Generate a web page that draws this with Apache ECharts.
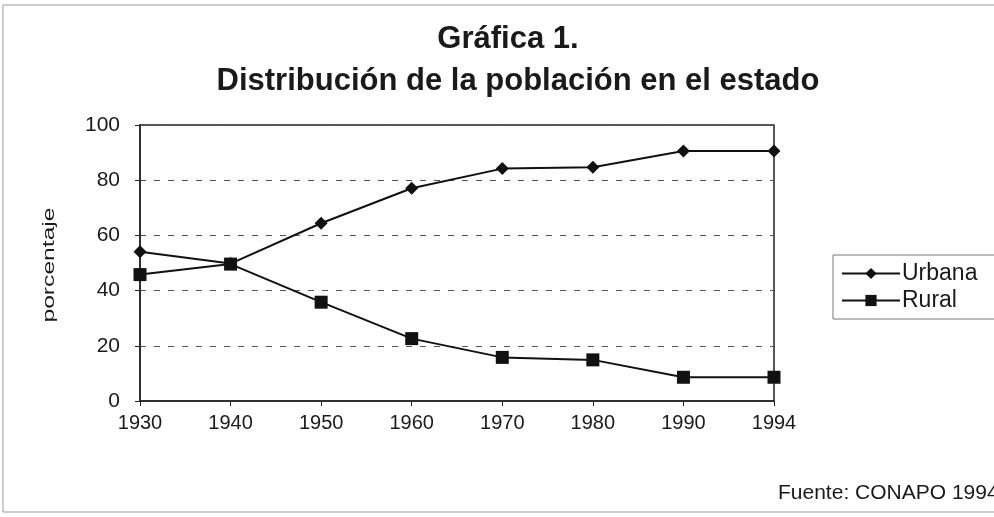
<!DOCTYPE html>
<html>
<head>
<meta charset="utf-8">
<script src="https://cdn.jsdelivr.net/npm/echarts@6/dist/echarts.min.js"></script>
<style>
  html, body { margin: 0; padding: 0; background: #fff; }
  #chart { width: 994px; height: 517px; }
</style>
</head>
<body>
<div id="chart"></div>
<script>
// datos
const years = ['1930', '1940', '1950', '1960', '1970', '1980', '1990', '1994']
const urbana = [54.1, 49.8, 64.4, 77.1, 84.2, 84.7, 90.6, 90.6]
const rural = [45.8, 49.6, 35.8, 22.6, 15.8, 14.9, 8.6, 8.6]

const chart = echarts.init(document.getElementById('chart'))
const font = 'Arial, "Liberation Sans", sans-serif'
const ink = '#1a1a1a'

chart.setOption({
	animation: false,
	backgroundColor: '#fff',
	textStyle: { fontFamily: font, color: ink },
	title: [
		{
			text: 'Gráfica 1.',
			left: 503,
			top: 19,
			textAlign: 'center',
			textStyle: { fontSize: 31, fontWeight: 'bold', color: ink },
		},
		{
			text: 'Distribución de la población en el estado',
			left: 513,
			top: 61,
			textAlign: 'center',
			textStyle: { fontSize: 31, fontWeight: 'bold', color: ink },
		},
	],
	graphic: [
		{
			// marco exterior
			type: 'rect',
			shape: { x: 3, y: 5, width: 1000, height: 507 },
			style: { fill: 'none', stroke: '#9a9a9a', lineWidth: 1 },
			silent: true,
			z: -1,
		},
		{
			// título del eje y (un poco estirado como en el original)
			type: 'text',
			x: 49,
			y: 265,
			rotation: Math.PI / 2,
			scaleX: 1.45,
			style: {
				text: 'porcentaje',
				fontSize: 17,
				fontFamily: font,
				fill: ink,
				align: 'center',
				verticalAlign: 'middle',
			},
		},
		{
			type: 'text',
			left: 778,
			top: 483,
			style: { text: 'Fuente: CONAPO 1994', fontSize: 21, fontFamily: font, fill: ink },
		},
	],
	legend: {
		left: 833,
		top: 255,
		orient: 'vertical',
		itemWidth: 58,
		itemHeight: 14,
		itemGap: 4,
		padding: [7, 60, 7, 8],
		borderColor: '#777',
		borderWidth: 1,
		textStyle: { fontSize: 23, color: ink, padding: [0, 0, 0, -3] },
		data: ['Urbana', 'Rural'],
	},
	grid: {
		left: 140,
		top: 125,
		right: 220,
		bottom: 116,
		show: true,
		borderColor: '#222',
		borderWidth: 1.5,
	},
	xAxis: {
		type: 'category',
		data: years,
		boundaryGap: false,
		axisLine: { lineStyle: { color: '#222', width: 1.5 } },
		axisTick: { show: true, length: 5, lineStyle: { color: '#222' } },
		axisLabel: { fontSize: 20, color: ink, margin: 12 },
	},
	yAxis: {
		type: 'value',
		min: 0,
		max: 100,
		interval: 20,
		axisLine: { show: true, lineStyle: { color: '#222', width: 1.5 } },
		axisTick: { show: true, length: 5, lineStyle: { color: '#222' } },
		axisLabel: { fontSize: 21, color: ink, margin: 20 },
		splitLine: { show: true, lineStyle: { type: [6, 8], color: '#555', width: 1 } },
	},
	series: [
		{
			name: 'Urbana',
			type: 'line',
			data: urbana,
			symbol: 'diamond',
			symbolSize: 13,
			itemStyle: { color: '#111' },
			lineStyle: { color: '#111', width: 2 },
		},
		{
			name: 'Rural',
			type: 'line',
			data: rural,
			symbol: 'rect',
			symbolSize: 13,
			itemStyle: { color: '#111' },
			lineStyle: { color: '#111', width: 2 },
		},
	],
})
</script>
</body>
</html>
